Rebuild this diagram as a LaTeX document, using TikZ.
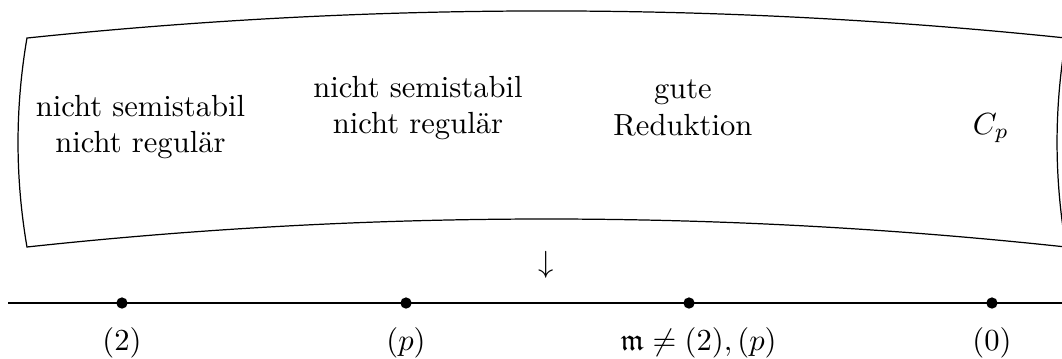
\documentclass[tikz,border=0pt]{standalone}
\usepackage{amsmath,amssymb}
\usepackage{tikz}
\usetikzlibrary{positioning}

\begin{document}
\begin{tikzpicture}[
  fibre/.style={align=center},
  pt/.style={circle,fill,inner sep=0pt,minimum size=3.7pt},
  ptlabel/.style={inner sep=3.33pt}]
  \useasboundingbox (0,0) rectangle (12.207,4.115);
  \clip (0,0) rectangle (12.207,4.115);
  % the bent surface over the base line
  \draw (0.310,3.678) .. controls (4.291,4.093) and (8.272,4.093) .. (12.253,3.678)
        .. controls (12.116,2.877) and (12.116,2.077) .. (12.253,1.276)
        .. controls (8.272,1.705) and (4.291,1.705) .. (0.310,1.276)
        .. controls (0.173,2.077) and (0.173,2.877) .. cycle;
  \node[fibre] (f2) at (1.615,2.655) {nicht semistabil\\nicht regulär};
  \node[fibre] (fp) at (4.805,2.874) {nicht semistabil\\nicht regulär};
  \node[fibre] (fm) at (7.850,2.874) {gute\\Reduktion};
  \node (f0) at (11.390,2.644) {$C_p$};
  \node (proj) at (6.276,1.076) {$\downarrow$};
  % base line with its points
  \coordinate (west) at (0.092,0.632);
  \coordinate (east) at (12.300,0.632);
  \draw (west) -- (east);
  \node[pt] (d2) at (1.402,0.632) {};
  \node[pt] (dp) at (4.667,0.632) {};
  \node[pt] (dm) at (7.920,0.632) {};
  \node[pt] (d0) at (11.402,0.632) {};
  \node[ptlabel,below=0.9mm of d2] (l2) {$(2)$};
  \node[ptlabel,below=0.9mm of dp] (lp) {$(p)$};
  \node[ptlabel,below=0.9mm of dm,xshift=1.1mm] (lm) {$\mathfrak{m}\neq(2),(p)$};
  \node[ptlabel,below=0.9mm of d0] (l0) {$(0)$};
\end{tikzpicture}
\end{document}
